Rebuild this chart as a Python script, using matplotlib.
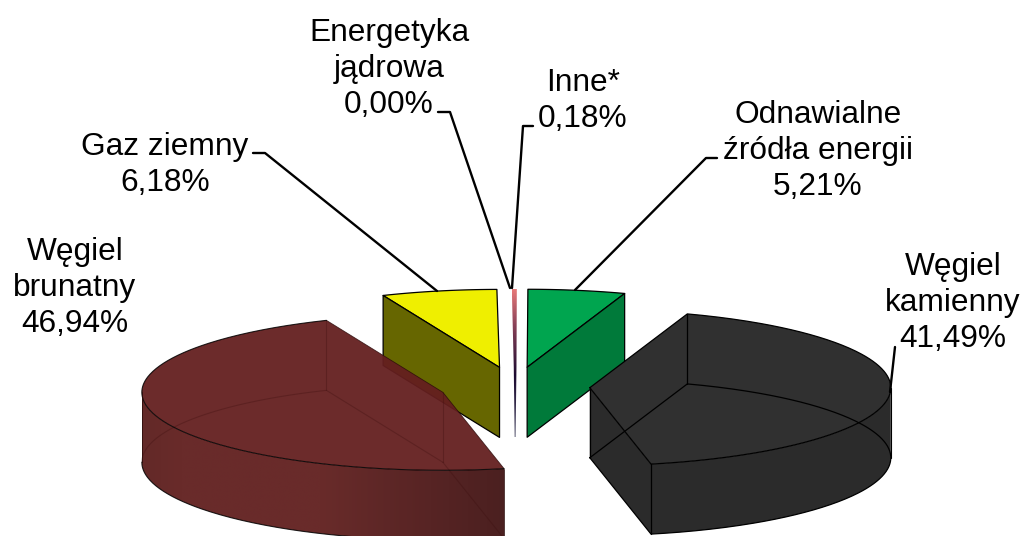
import numpy as np
import matplotlib
matplotlib.use("Agg")
import matplotlib.pyplot as plt
from matplotlib.patches import Polygon
from matplotlib.colors import to_rgb

# ---- data -------------------------------------------------------------
names = ["Węgiel\nkamienny", "Węgiel\nbrunatny", "Gaz ziemny", "Energetyka\njądrowa", "Inne*", "Odnawialne\nźródła energii"]
values = [41.49, 46.94, 6.18, 0.00, 0.18, 5.21]

# ---- layout (pixel space of the picture) -------------------------------
W, H = 1024, 536
CX, CY = 514.7, 386.5
RX, RY = 301.0, 78.0
DEPTH = 70.0
EXPLODE = 0.25
START = 18.9

label_xy = [(953, 303), (75, 288), (165, 165), (389, 69), (583, 101), (818, 151)]
leaders = [
    [(895, 347), (890, 392)],
    [],
    [(253, 153), (265, 153), (437, 291)],
    [(438, 112), (450, 112), (510, 288)],
    [(533, 126), (523, 126), (512, 288)],
    [(717, 158), (706, 158), (575, 290)],
]

plt.rcParams["font.family"] = ["Liberation Sans", "DejaVu Sans"]
fig = plt.figure(figsize=(W / 100, H / 100), dpi=100)
ax = fig.add_axes([0, 0, 1, 1])


def wedge(i):
    a0 = START + 3.6 * sum(values[:i])
    a1 = a0 + 3.6 * values[i]
    mid = np.radians((a0 + a1) / 2)
    cx = CX + EXPLODE * RX * np.sin(mid)
    cy = CY - EXPLODE * RY * np.cos(mid)
    t = np.radians(np.linspace(a0, a1, 240))
    return (cx, cy), cx + RX * np.sin(t), cy - RY * np.cos(t)


def poly(pts, fc, ec="black", lw=0.9, alpha=None, z=1):
    p = Polygon(pts, closed=True, facecolor=fc, edgecolor=ec, linewidth=lw, alpha=alpha, zorder=z, joinstyle="round")
    ax.add_patch(p)
    return p


def line(xs, ys, color="black", lw=1.0, z=5, alpha=None):
    ax.plot(xs, ys, color=color, lw=lw, zorder=z, alpha=alpha, solid_capstyle="round")


def gradient(clip_pts, stops, horizontal=True, alpha=1.0, z=1):
    """Fill a polygon with a colour ramp: stops = [(pos_px, colour), ...]."""
    pts = np.asarray(clip_pts)
    x0, x1, y0, y1 = pts[:, 0].min(), pts[:, 0].max(), pts[:, 1].min(), pts[:, 1].max()
    n = 400
    pos = np.linspace(x0, x1, n) if horizontal else np.linspace(y0, y1, n)
    sp = [s[0] for s in stops]
    cols = np.array([to_rgb(s[1]) for s in stops])
    rgb = np.stack([np.interp(pos, sp, cols[:, k]) for k in range(3)], axis=-1)
    rgba = np.concatenate([rgb, np.full((n, 1), alpha)], axis=1)
    img = rgba[None, :, :] if horizontal else rgba[:, None, :]
    im = ax.imshow(img, extent=(x0, x1, y1, y0), aspect="auto", zorder=z, interpolation="bilinear")
    clip = Polygon(clip_pts, closed=True, transform=ax.transData, facecolor="none", edgecolor="none")
    ax.add_patch(clip)
    im.set_clip_path(clip)


# ---- green: Odnawialne -------------------------------------------------
(c, d), x, y = wedge(5)
poly(np.r_[[[c, d]], np.c_[x, y]], "#00a54f", z=1)
poly([(c, d), (x[-1], y[-1]), (x[-1], y[-1] + DEPTH), (c, d + DEPTH)], "#007a3a", z=1)

# ---- yellow: Gaz ziemny ------------------------------------------------
(c, d), x, y = wedge(2)
poly(np.r_[[[c, d]], np.c_[x, y]], "#efef00", z=1)
poly([(x[0], y[0]), (c, d), (c, d + DEPTH), (x[0], y[0] + DEPTH)], "#666600", z=1)

# ---- sliver: Inne ------------------------------------------------------
(c, d), x, y = wedge(4)
sliver = [(x[0], y[0]), (x[-1] + 1.6, y[-1]), (c + 2.0, d), (c + 1.1, d + DEPTH), (c + 0.2, d + DEPTH), (c - 0.7, d)]
gradient(sliver, [(289, "#e87a7a"), (325, "#8a4258"), (375, "#1c0a30"), (437, "#50506a")], horizontal=False, z=2)

# ---- black: Węgiel kamienny --------------------------------------------
(c, d), x, y = wedge(0)
ix = np.argmax(x)
poly([(c, d), (x[-1], y[-1]), (x[-1], y[-1] + DEPTH), (c, d + DEPTH)], "#2b2b2b", ec="none", z=3)
poly(np.r_[np.c_[x[ix:], y[ix:]], np.c_[x[ix:], y[ix:] + DEPTH][::-1]], "#2b2b2b", ec="none", z=3)
poly(np.r_[[[c, d]], np.c_[x, y]], "#303030", ec="none", z=3)
line(np.r_[c, x, c], np.r_[d, y, d], lw=0.9, z=4)
line(np.r_[c, x, c], np.r_[d + DEPTH, y + DEPTH, d + DEPTH], lw=0.9, z=4)
for px, py in [(c, d), (x[0], y[0]), (x[-1], y[-1])]:
    line([px, px], [py, py + DEPTH], lw=0.9, z=4)
line([x[ix], x[ix]], [y[ix], y[ix] + DEPTH], lw=0.8, z=4)

# ---- brown: Węgiel brunatny --------------------------------------------
(c, d), x, y = wedge(1)
il = np.argmin(x)
side = np.r_[np.c_[x[:il + 1], y[:il + 1]], np.c_[x[:il + 1], y[:il + 1] + DEPTH][::-1]]
gradient(side, [(141, "#5c1f1e"), (180, "#622120"), (320, "#622120"), (430, "#4f1a1a"), (505, "#431616")], alpha=0.96, z=6)
poly(np.r_[[[c, d]], np.c_[x, y]], "#641f1f", ec="none", alpha=0.95, z=7)
hid = "#3a0c0c"
line(np.r_[c, x[::-1][:240 - il]], np.r_[d + DEPTH, (y + DEPTH)[::-1][:240 - il]], color=hid, lw=0.8, z=8, alpha=0.3)
line([c, c], [d, d + DEPTH], color=hid, lw=0.8, z=8, alpha=0.3)
line([x[-1], x[-1]], [y[-1], y[-1] + DEPTH], color=hid, lw=0.8, z=8, alpha=0.3)
line([c, x[0]], [d + DEPTH, y[0] + DEPTH], color=hid, lw=0.8, z=8, alpha=0.3)
line(np.r_[x[-1], c, x[0]], np.r_[y[-1], d, y[0]], color="#2a0a0a", lw=0.6, z=8, alpha=0.8)
line(x, y, color="black", lw=0.8, z=8, alpha=0.85)
line([x[il], x[il]], [y[il], y[il] + DEPTH], color="#2a0a0a", lw=0.7, z=8, alpha=0.8)
line(x[:il + 1], (y + DEPTH)[:il + 1], color="black", lw=0.8, z=8, alpha=0.85)
line([x[0], x[0]], [y[0], y[0] + DEPTH], color="#2a0a0a", lw=0.7, z=8, alpha=0.8)

# ---- labels ------------------------------------------------------------
for name, v, (tx, ty), pts in zip(names, values, label_xy, leaders):
    ax.text(tx, ty, f"{name}\n{v:.2f}%".replace(".", ","), ha="center", va="center",
            fontsize=22.8, linespacing=1.25, color="black", zorder=20)
    if pts:
        xs, ys = zip(*pts)
        line(xs, ys, lw=1.7, z=15)

ax.set_xlim(0, W)
ax.set_ylim(H, 0)
ax.axis("off")
fig.savefig("out.png", dpi=100, facecolor="white")
